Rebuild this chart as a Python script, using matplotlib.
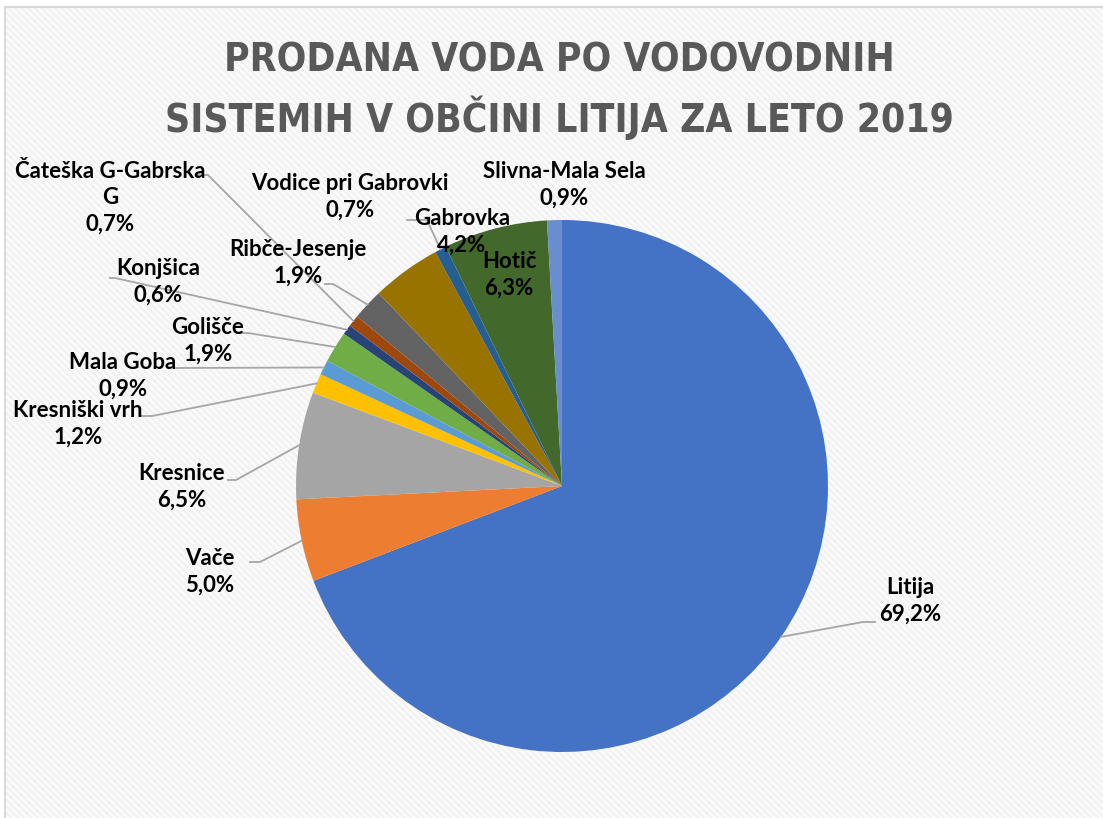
import numpy as np
import matplotlib.pyplot as plt
from matplotlib.patches import Rectangle

# data
names = ["Litija", "Vače", "Kresnice", "Kresniški vrh", "Mala Goba", "Golišče",
         "Konjšica", "Čateška G-Gabrska\nG", "Ribče-Jesenje", "Gabrovka",
         "Vodice pri Gabrovki", "Hotič", "Slivna-Mala Sela"]
shares = [69.2, 5.0, 6.5, 1.2, 0.9, 1.9, 0.6, 0.7, 1.9, 4.2, 0.7, 6.3, 0.9]
colors = ["#4472C4", "#ED7D31", "#A5A5A5", "#FFC000", "#5B9BD5", "#70AD47",
          "#264478", "#9E480E", "#636363", "#997300", "#255E91", "#43682B",
          "#698ED0"]
title = "PRODANA VODA PO VODOVODNIH\nSISTEMIH V OBČINI LITIJA ZA LETO 2019"

W, H = 1103, 818
cx, cy, R = 562, 486, 266

# label layout in pixels: text centre, leader points (elbow, end) or None
layout = {
    "Litija": ((910, 601), [(863, 622), (875, 622)]),
    "Vače": ((210, 572), [(260, 562), (250, 562)]),
    "Kresnice": ((182, 487), [(236, 480), (228, 480)]),
    "Kresniški vrh": ((78, 424), [(152, 416), (140, 416)]),
    "Mala Goba": ((123, 376), [(175, 368), (170, 368)]),
    "Golišče": ((208, 341), [(248, 333), (240, 333)]),
    "Konjšica": ((158, 282), [(115, 278), (110, 278)]),
    "Čateška G-Gabrska\nG": ((110, 198), [(208, 175), (197, 175)]),
    "Ribče-Jesenje": ((298, 263), [(333, 284), (325, 284)]),
    "Vodice pri Gabrovki": ((350, 197), [(427, 220), (407, 220)]),
    "Gabrovka": ((462, 232), None),
    "Hotič": ((509, 275), None),
    "Slivna-Mala Sela": ((564, 185), None),
}

def px(p):
    return ((p[0] - cx) / R, (cy - p[1]) / R)

fig = plt.figure(figsize=(W / 100, H / 100), dpi=100)
fig.patch.set_facecolor("white")

# chart area with light diagonal stripes
plt.rcParams['hatch.linewidth'] = 1.2
bg = Rectangle((5 / W, 0), 1, 1 - 7 / H, transform=fig.transFigure,
               facecolor="#FAFAFA", edgecolor="#F0F0F0", hatch="\\\\\\\\\\",
               linewidth=0, zorder=-5)
fig.patches.append(bg)
fig.add_artist(plt.Line2D([5 / W, 5 / W], [0, 1 - 7 / H], color="#D9D9D9",
                          lw=1.5, transform=fig.transFigure, zorder=-4))
fig.add_artist(plt.Line2D([5 / W, 1], [1 - 7 / H, 1 - 7 / H], color="#D9D9D9",
                          lw=1.5, transform=fig.transFigure, zorder=-4))

ax = fig.add_axes([0, 0, 1, 1])
ax.patch.set_visible(False)

wedges, _ = ax.pie(shares, colors=colors, startangle=90, counterclock=False,
                   radius=1, center=(0, 0), wedgeprops=dict(linewidth=0))
ax.set_xlim(-cx / R, (W - cx) / R)
ax.set_ylim(-(H - cy) / R, cy / R)
ax.set_aspect("equal")
ax.axis("off")

lab_font = dict(family=["Lato", "DejaVu Sans"], fontsize=16, fontweight="bold",
                color="#000000", ha="center", va="center", linespacing=1.3)

for w, name, val in zip(wedges, names, shares):
    pos, lead = layout[name]
    tx, ty = px(pos)
    ax.text(tx, ty, f"{name}\n{val:.1f}%".replace(".", ","), zorder=5, **lab_font)
    if lead:
        ang = np.deg2rad((w.theta1 + w.theta2) / 2)
        pts = [(np.cos(ang), np.sin(ang))] + [px(p) for p in lead]
        xs, ys = zip(*pts)
        ax.plot(xs, ys, color="#A6A6A6", lw=1.3, zorder=4)

fig.text(559 / W, 1 - 91 / H, title, ha="center", va="center",
         family=["DejaVu Sans"], fontstretch="condensed",
         fontsize=28, fontweight="bold", color="#595959", linespacing=1.45)

fig.savefig("out.png", dpi=100, facecolor=fig.get_facecolor())
